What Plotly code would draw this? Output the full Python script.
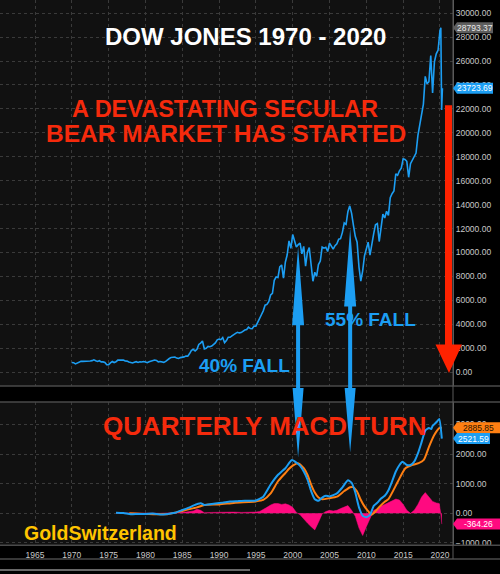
import pandas as pd
import plotly.graph_objects as go

# ---------------- data ----------------
# Dow Jones Industrial Average, quarter-end closes from Q4 1969
dow_quarterly = [
    800,
    785, 683, 760, 839,
    904, 891, 887, 890,
    940, 929, 953, 1020,
    951, 891, 947, 851,
    847, 802, 608, 616,
    768, 879, 794, 852,
    999, 1003, 990, 1004,
    919, 916, 847, 831,
    757, 819, 865, 805,
    862, 842, 878, 838,
    785, 867, 932, 964,
    1003, 976, 850, 875,
    822, 812, 896, 1046,
    1130, 1222, 1233, 1258,
    1165, 1132, 1207, 1212,
    1267, 1335, 1329, 1547,
    1819, 1893, 1768, 1896,
    2305, 2419, 2596, 1939,
    1988, 2141, 2113, 2169,
    2293, 2440, 2693, 2753,
    2707, 2881, 2453, 2634,
    2914, 2907, 3017, 3169,
    3236, 3319, 3272, 3301,
    3436, 3516, 3555, 3754,
    3636, 3625, 3843, 3834,
    4158, 4556, 4789, 5117,
    5588, 5655, 5882, 6448,
    6584, 7673, 7945, 7908,
    8800, 8952, 7843, 9181,
    9786, 10971, 10337, 11497,
    10922, 10448, 10651, 10787,
    9879, 10502, 8848, 10022,
    10404, 9243, 7592, 8342,
    7992, 8985, 9275, 10454,
    10358, 10435, 10080, 10783,
    10504, 10275, 10569, 10718,
    11109, 11150, 11679, 12463,
    12354, 13409, 13896, 13265,
    12263, 11350, 10851, 8776,
    7609, 8447, 9712, 10428,
    10857, 9774, 10788, 11578,
    12320, 12414, 10913, 12218,
    13212, 12880, 13437, 13104,
    14579, 14910, 15130, 16577,
    16458, 16827, 17043, 17823,
    17776, 17620, 16285, 17425,
    17685, 17930, 18308, 19763,
    20663, 21350, 22405, 24719,
    24103, 24271, 26458, 23327,
    25929, 26600, 26917, 28538,
]
# 2020 points
dow_2020_dates = ["2020-02-12", "2020-03-23", "2020-04-30"]
dow_2020_values = [28793.37, 21917, 23723.69]
dow_high = 28793.37
dow_last = 23723.69

# Quarterly MACD line (fractional years, value)
macd_years = [1976.0, 1977.0, 1978.0, 1979.0, 1980.0, 1981.0, 1982.0, 1983.0, 1984.0,
              1985.0, 1986.0, 1986.5, 1987.5, 1988.0, 1988.5, 1989.5, 1990.5, 1991.5,
              1992.5, 1993.5, 1994.5, 1995.0, 1996.0, 1997.0, 1998.0, 1998.5, 1999.0,
              1999.5, 1999.9, 2000.5, 2001.0, 2001.5, 2002.0, 2002.5, 2003.0, 2003.5,
              2004.0, 2004.5, 2005.0, 2006.0, 2006.7, 2007.5, 2008.0, 2008.5, 2009.0,
              2009.5, 2010.0, 2010.5, 2011.0, 2011.5, 2012.0, 2012.5, 2013.0, 2013.5,
              2014.0, 2014.5, 2014.9, 2015.5, 2016.0, 2016.5, 2017.0, 2017.5, 2018.0,
              2018.5, 2018.8, 2019.0, 2019.5, 2019.9, 2020.25]
macd_vals = [20, 10, -30, -20, -20, -10, -40, -20, 20,
             110, 200, 260, 340, 280, 300, 330, 360, 400,
             410, 420, 420, 430, 560, 970, 1300, 1410, 1520,
             1690, 1800, 1710, 1600, 1410, 1140, 750, 475, 420,
             530, 590, 570, 670, 860, 1115, 1030, 700, 200,
             -80, -130, -55, 250, 360, 500, 590, 780, 1080,
             1410, 1630, 1740, 1630, 1630, 1740, 2020, 2400, 2790,
             2880, 2840, 2950, 3070, 3180, 2521.59]

# Signal line
signal_years = [1977.8, 1980.0, 1983.0, 1985.0, 1987.0, 1988.0, 1990.0, 1992.0, 1994.0,
                1995.0, 1996.0, 1997.0, 1998.0, 1999.0, 1999.5, 2000.0, 2000.7, 2001.5,
                2002.0, 2002.5, 2003.0, 2003.5, 2004.0, 2005.0, 2006.0, 2007.0, 2007.8,
                2008.2, 2008.7, 2009.2, 2009.7, 2010.3, 2010.7, 2011.2, 2011.7, 2012.5,
                2013.0, 2014.3, 2015.3, 2016.2, 2017.1, 2017.8, 2018.5, 2019.2, 2019.9,
                2020.25]
signal_vals = [0, -20, -30, 80, 200, 280, 300, 350, 380,
               400, 450, 670, 1080, 1360, 1500, 1610, 1690, 1520,
               1300, 970, 700, 530, 475, 510, 560, 750, 880,
               884, 750, 475, 250, 55, -50, 55, 200, 390,
               480, 1080, 1520, 1630, 1690, 1800, 2240, 2630, 2870,
               2885.85]

# MACD histogram
hist_years = [1976.0, 1978.0, 1980.0, 1982.0, 1984.0, 1985.5, 1986.5, 1987.0, 1987.5,
              1988.0, 1989.0, 1990.0, 1991.0, 1992.0, 1993.0, 1994.0, 1995.0, 1995.5,
              1996.0, 1996.5, 1997.0, 1997.5, 1998.0, 1998.5, 1999.0, 1999.5, 2000.0,
              2000.5, 2001.0, 2001.5, 2002.0, 2002.5, 2003.0, 2003.5, 2004.0, 2004.5,
              2005.0, 2005.5, 2006.0, 2006.5, 2007.0, 2007.5, 2008.0, 2008.5, 2009.0,
              2009.5, 2010.0, 2010.5, 2011.0, 2011.5, 2012.0, 2012.5, 2013.0, 2013.5,
              2014.0, 2014.5, 2015.0, 2015.5, 2016.0, 2016.5, 2017.0, 2017.5, 2018.0,
              2018.5, 2019.0, 2019.5, 2019.9, 2020.1, 2020.25]
hist_vals = [10, 0, 0, 0, 20, 40, 80, 140, 100,
             20, 30, 40, 50, 40, 30, 30, 40, 60,
             120, 200, 280, 330, 330, 300, 320, 280, 200,
             30, -50, -200, -330, -450, -560, -300, -20, 60,
             100, 80, 100, 160, 220, 260, 100, -100, -500,
             -750, -450, -150, 100, 150, 250, 300, 350, 420,
             480, 450, 300, 100, 0, 100, 300, 550, 700,
             550, 400, 350, 330, 0, -364.26]

x_tick_years = list(range(1965, 2021, 5))

# ---------------- styling ----------------
W, H = 500, 574
M_R = 47
PLOT_W = W - M_R
BG = "#000000"
PANEL_BG = "#111111"
GRID = "#3a3a3a"
AXIS_LINE = "#5a5a5a"
TICK_TXT = "#c8c8c8"
BLUE = "#1c9ef3"
ORANGE = "#ff7f12"
PINK = "#ff0a80"
RED = "#f52a0c"
YELLOW = "#ffc400"
FONT = "Liberation Sans, Arial, sans-serif"


def py(pix):
    """Paper y for a pixel row measured from the top."""
    return 1 - pix / H


def px(pix):
    """Paper x for a pixel column measured from the left."""
    return pix / PLOT_W


def yr(t):
    y = int(t)
    return pd.Timestamp(y, 1, 1) + (t - y) * pd.Timedelta(days=365.25)


q_dates = pd.date_range("1969-12-31", periods=len(dow_quarterly), freq="QE")
dow_dates = list(q_dates) + [pd.Timestamp(d) for d in dow_2020_dates]
dow_values = dow_quarterly + dow_2020_values

fig = go.Figure()

fig.add_trace(go.Scatter(
    x=dow_dates, y=dow_values, mode="lines",
    line=dict(color=BLUE, width=1.6), xaxis="x", yaxis="y", showlegend=False))

fig.add_trace(go.Scatter(
    x=[yr(t) for t in hist_years], y=hist_vals, mode="lines",
    line=dict(color=PINK, width=0.5), fill="tozeroy", fillcolor=PINK,
    xaxis="x2", yaxis="y2", showlegend=False))

fig.add_trace(go.Scatter(
    x=[yr(t) for t in signal_years], y=signal_vals, mode="lines",
    line=dict(color=ORANGE, width=2, shape="spline", smoothing=0.6),
    xaxis="x2", yaxis="y2", showlegend=False))

fig.add_trace(go.Scatter(
    x=[yr(t) for t in macd_years], y=macd_vals, mode="lines",
    line=dict(color=BLUE, width=2, shape="spline", smoothing=0.5),
    xaxis="x2", yaxis="y2", showlegend=False))

x_range = [yr(1960.247), yr(2021.766)]
top_dom = [py(388), 1]
bot_dom = [py(548), py(404)]

common_x = dict(type="date", range=x_range, showgrid=True, gridcolor=GRID,
                griddash="dot", gridwidth=1, zeroline=False, showline=False,
                tickvals=[pd.Timestamp(y, 1, 1) for y in x_tick_years],
                ticktext=[str(y) for y in x_tick_years], ticks="",
                tickfont=dict(family=FONT, size=8.5, color=TICK_TXT))
common_y = dict(side="right", showgrid=True, gridcolor=GRID, griddash="dot",
                gridwidth=1, zeroline=False, showline=True, linecolor=AXIS_LINE,
                linewidth=1, ticks="", tickformat=".2f",
                tickfont=dict(family=FONT, size=8.5, color=TICK_TXT))

fig.update_layout(
    width=W, height=H,
    margin=dict(l=0, r=M_R, t=0, b=0),
    paper_bgcolor=BG, plot_bgcolor=PANEL_BG,
    showlegend=False,
    xaxis=dict(domain=[0, 1], anchor="y", showticklabels=False, **common_x),
    yaxis=dict(domain=top_dom, anchor="x", range=[-1164, 31106], dtick=2000,
               tick0=0, **common_y),
    xaxis2=dict(domain=[0, 1], anchor="y2", matches="x", showticklabels=True,
                ticklabelstandoff=3, **common_x),
    yaxis2=dict(domain=bot_dom, anchor="x2", range=[-1074, 3758], dtick=1000,
                tick0=0, **common_y),
)

shapes = []
# panel separators
for row in (388, 404, 548, 562):
    shapes.append(dict(type="line", xref="paper", yref="paper",
                       x0=0, x1=W / PLOT_W, y0=py(row), y1=py(row),
                       line=dict(color="#4a4a4a", width=1.5)))
shapes.append(dict(type="line", xref="paper", yref="paper",
                   x0=1, x1=1, y0=py(562), y1=1,
                   line=dict(color=AXIS_LINE, width=1)))
shapes.append(dict(type="line", xref="paper", yref="paper",
                   x0=0, x1=px(250), y0=py(573), y1=py(573),
                   line=dict(color="#d0d0d0", width=1)))


def blue_arrow(date, tip_up, base_up, base_dn, tip_dn):
    pts = [(0, tip_up), (6, base_up), (2, base_up), (2, base_dn), (5.5, base_dn),
           (0, tip_dn), (-5.5, base_dn), (-2, base_dn), (-2, base_up), (-6, base_up)]
    path = "M " + " L ".join(f"{dx},{py(r):.5f}" for dx, r in pts) + " Z"
    return dict(type="path", xref="x", yref="paper", xsizemode="pixel",
                xanchor=date, path=path, fillcolor=BLUE, line=dict(width=0),
                layer="above")


shapes.append(blue_arrow(yr(2000.73), 248, 327, 390, 460))
shapes.append(blue_arrow(yr(2007.80), 230, 308, 390, 455))

# red downward arrow from the 2020 low toward zero
red_top, red_head, red_tip = 22300, 2300, -80
red_pts = [(-3.5, red_top), (3.5, red_top), (3.5, red_head), (13.5, red_head),
           (0.5, red_tip), (-13, red_head), (-3.5, red_head)]
shapes.append(dict(type="path", xref="paper", yref="y", xsizemode="pixel",
                   xanchor=px(448.5),
                   path="M " + " L ".join(f"{dx},{v}" for dx, v in red_pts) + " Z",
                   fillcolor="#ff2200", line=dict(width=0), layer="above"))


def value_tag(value, yref, fill, txt_color, width=40):
    half = 5.5
    path = (f"M 0,0 L 4,{half} L {width},{half} L {width},{-half} "
            f"L 4,{-half} Z")
    shapes.append(dict(type="path", xref="paper", yref=yref, xsizemode="pixel",
                       xanchor=1, ysizemode="pixel", yanchor=value, path=path,
                       fillcolor=fill, line=dict(width=0), layer="above"))
    return dict(x=px(PLOT_W + 4 + (width - 4) / 2), xref="paper", y=value, yref=yref,
                text=f"{value:.2f}", showarrow=False, xanchor="center",
                yanchor="middle",
                font=dict(family=FONT, size=8.5, color=txt_color))


annotations = [
    value_tag(dow_high, "y", "#5e5e5e", "#e8e8e8"),
    value_tag(dow_last, "y", BLUE, "#ffffff"),
    value_tag(signal_vals[-1], "y2", ORANGE, "#2a1400", width=47),
    value_tag(macd_vals[-1], "y2", BLUE, "#ffffff", width=37),
    value_tag(hist_vals[-1], "y2", PINK, "#ffffff", width=47),
]


def label(text, x, y, size, color):
    return dict(x=px(x), y=py(y), xref="paper", yref="paper", text=f"<b>{text}</b>",
                showarrow=False, xanchor="center", yanchor="middle",
                font=dict(family=FONT, size=size, color=color))


annotations += [
    label("DOW JONES 1970 - 2020", 245, 37, 24, "#ffffff"),
    label("A DEVASTATING SECULAR", 225, 110, 23.5, RED),
    label("BEAR MARKET HAS STARTED", 226, 134, 24.5, RED),
    label("40% FALL", 244, 367.5, 19, BLUE),
    label("55% FALL", 370, 321.5, 19, BLUE),
    label("QUARTERLY MACD TURN", 265, 428, 26, RED),
    label("GoldSwitzerland", 100, 536, 19.5, YELLOW),
]

fig.update_layout(shapes=shapes, annotations=annotations)
fig.write_html("out.html")
